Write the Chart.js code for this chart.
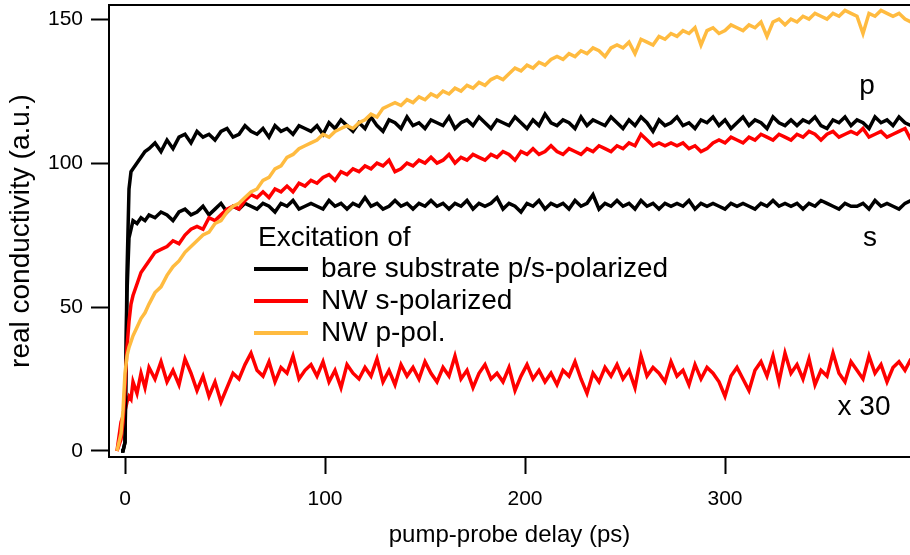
<!DOCTYPE html>
<html>
<head>
<meta charset="utf-8">
<script src="https://cdn.jsdelivr.net/npm/chart.js@4"></script>
<style>
  html, body { margin: 0; padding: 0; background: #fff; }
</style>
</head>
<body>
<canvas id="chart" width="910" height="555"></canvas>
<script>
// pump-probe delay in ps
const delay = [
  -6, -4, -2, -1, 0, 1, 2, 3, 4, 6,
  8, 10, 12, 15, 18, 21, 24, 27, 30, 33,
  36, 39, 42, 45, 48, 51, 54, 57, 60, 63,
  66, 69, 72, 75, 78, 81, 84, 87, 90, 93,
  96, 99, 102, 105, 108, 111, 114, 117, 120, 123,
  126, 129, 132, 135, 138, 141, 144, 147, 150, 153,
  156, 159, 162, 165, 168, 171, 174, 177, 180, 183,
  186, 189, 192, 195, 198, 201, 204, 207, 210, 213,
  216, 219, 222, 225, 228, 231, 234, 237, 240, 243,
  246, 249, 252, 255, 258, 261, 264, 267, 270, 273,
  276, 279, 282, 285, 288, 291, 294, 297, 300, 303,
  306, 309, 312, 315, 318, 321, 324, 327, 330, 333,
  336, 339, 342, 345, 348, 351, 354, 357, 360, 363,
  366, 369, 372, 375, 378, 381, 384, 387, 390, 393
];

// bare substrate, p-polarized
const bareP = [
  null, null, 0, 0, 3, 62, 91, 97, 98, 100,
  102, 104, 105, 107, 104, 108, 105, 109, 110, 107,
  111, 109, 110, 108, 111, 112, 109, 110, 113, 111,
  110, 112, 109, 113, 111, 112, 110, 113, 112, 111,
  113, 110, 114, 112, 115, 113, 111, 114, 112, 116,
  113, 111, 115, 114, 112, 116, 113, 114, 112, 115,
  114, 113, 116, 112, 114, 115, 113, 116, 114, 112,
  115, 114, 113, 116, 114, 112, 115, 113, 117, 114,
  113, 115, 114, 112, 116, 113, 115, 114, 113, 116,
  114, 112, 115, 113, 116, 114, 111, 115, 113, 114,
  116, 113, 114, 112, 115, 114, 116, 113, 115, 112,
  114, 116, 113, 115, 114, 112, 116, 114, 113, 115,
  113, 115, 114, 116, 113, 112, 115, 114, 116, 113,
  115, 114, 112, 116, 114, 115, 113, 116, 114, 113
];

// bare substrate, s-polarized
const bareS = [
  null, null, 0, 0, 3, 55, 74, 77, 80, 79,
  81, 80, 82, 81, 83, 82, 80, 83, 84, 82,
  83, 85, 82, 84, 86, 83, 85, 84, 86, 85,
  84, 86, 85, 83, 86, 85, 87, 84, 85, 86,
  85, 84, 87, 85, 86, 84, 86, 85, 88, 85,
  86, 84, 85, 87, 85, 86, 84, 86, 85, 87,
  85, 86, 84, 86, 85, 87, 84, 86, 85, 86,
  88, 84, 86, 85, 83, 86, 85, 87, 84, 86,
  85, 86, 84, 87, 85, 86, 89, 84, 86, 85,
  87, 85, 86, 84, 87, 85, 86, 84, 86, 85,
  86, 85, 87, 84, 86, 85, 86, 85, 84, 86,
  85, 86, 85, 84, 86, 85, 87, 85, 86, 85,
  86, 84, 86, 85, 87, 86, 85, 84, 86, 85,
  85, 86, 84, 87, 85, 86, 85, 84, 86, 87
];

// nanowires, s-polarized
const nwS = [
  null, 0, 4, 10, 22, 36, 45, 51, 54, 58,
  62, 64, 66, 69, 70, 71, 73, 72, 75, 77,
  78, 77, 81, 80, 82, 84, 85, 84, 87, 89,
  88, 90, 88, 91, 90, 92, 90, 93, 92, 94,
  93, 95, 96, 94, 97, 96, 98, 97, 99, 98,
  100, 99, 101, 97, 98, 100, 99, 101, 100, 102,
  100, 101, 103, 100, 102, 101, 103, 102, 101, 103,
  102, 104, 103, 101, 104, 103, 105, 103, 104, 106,
  104, 103, 105, 104, 103, 105, 104, 106, 105, 104,
  106, 105, 107, 106, 110, 108, 106, 107, 106, 107,
  106, 107, 105, 106, 104, 105, 107, 108, 107, 109,
  108, 107, 109, 108, 110, 109, 108, 110, 109, 108,
  110, 109, 111, 110, 108, 110, 111, 109, 110, 111,
  110, 112, 109, 110, 111, 109, 110, 111, 112, 108
];

// nanowires, p-polarized
const nwP = [
  null, 0, 6, 14, 27, 33, 36, 38, 40, 43,
  46, 48, 51, 55, 57, 61, 64, 66, 69, 71,
  73, 75, 76, 79, 80, 83, 85, 86, 88, 90,
  91, 94, 95, 98, 99, 102, 103, 105, 106, 107,
  108, 110, 109, 111, 112, 113, 112, 114, 115, 117,
  116, 119, 120, 121, 120, 122, 121, 123, 122, 124,
  123, 125, 124, 126, 125, 127, 126, 128, 127, 129,
  130, 129, 131, 133, 132, 134, 133, 135, 134, 136,
  137, 136, 138, 137, 139, 138, 140, 139, 137, 140,
  141, 140, 142, 138, 143, 142, 141, 144, 143, 145,
  144, 146, 145, 147, 141, 146, 147, 145, 146, 148,
  147, 146, 148, 147, 149, 144, 149, 150, 148, 150,
  149, 151, 150, 152, 151, 150, 152, 151, 153, 152,
  151, 145, 152, 151, 153, 152, 151, 152, 150, 149
];

// nanowires, s-polarized, multiplied by 30
const nwS30 = [
  null, 0, 10, 12, 14, 17, 19, 18, 24, 20,
  27, 22, 29, 25, 31, 24, 28, 23, 32, 27,
  21, 26, 19, 24, 17, 22, 27, 25, 30, 34,
  28, 26, 31, 24, 29, 27, 33, 25, 28, 30,
  26, 31, 24, 28, 22, 30, 27, 25, 29, 26,
  32, 24, 28, 23, 30, 26, 29, 25, 31, 27,
  24, 29, 26, 33, 25, 28, 22, 27, 30, 25,
  27, 24, 29, 21, 26, 30, 25, 28, 24, 27,
  23, 28, 26, 31, 25, 20, 27, 24, 29, 26,
  30, 25, 28, 22, 33, 26, 29, 27, 24, 31,
  26, 28, 23, 30, 25, 29, 27, 24, 19, 26,
  29, 25, 21, 28, 31, 26, 33, 24, 34, 27,
  30, 25, 32, 23, 28, 26, 34, 27, 24, 31,
  28, 25, 33, 27, 30, 24, 29, 31, 28, 32
];

const xTicks = [0, 100, 200, 300];
const yTicks = [0, 50, 100, 150];

const legendTitle = 'Excitation of';
const legendItems = [
  { text: 'bare substrate p/s-polarized', color: '#000000' },
  { text: 'NW s-polarized', color: '#ff0000' },
  { text: 'NW p-pol.', color: '#ffbb40' }
];

const FONT = 'Liberation Sans, Arial, Helvetica, sans-serif';

function pts(ys) {
  return delay.map((x, i) => ({ x: x, y: ys[i] }));
}

function line(ys, color) {
  return {
    data: pts(ys),
    borderColor: color,
    borderWidth: 3.5,
    pointRadius: 0,
    tension: 0,
    fill: false
  };
}

const annotate = {
  id: 'annotate',
  afterDraw(chart) {
    const ctx = chart.ctx;
    const area = chart.chartArea;
    ctx.save();
    // top frame line
    ctx.strokeStyle = '#000';
    ctx.lineWidth = 2;
    ctx.beginPath();
    ctx.moveTo(area.left - 1, area.top);
    ctx.lineTo(area.right, area.top);
    ctx.stroke();

    ctx.fillStyle = '#000';
    ctx.textBaseline = 'middle';
    ctx.font = '28px ' + FONT;
    ctx.textAlign = 'left';
    ctx.fillText(legendTitle, 258, 238);
    legendItems.forEach((it, i) => {
      const y = 269 + i * 32;
      ctx.strokeStyle = it.color;
      ctx.lineWidth = 4;
      ctx.beginPath();
      ctx.moveTo(254, y);
      ctx.lineTo(308, y);
      ctx.stroke();
      ctx.fillStyle = '#000';
      ctx.fillText(it.text, 321, y);
    });

    ctx.textAlign = 'center';
    ctx.fillText('p', 867, 86);
    ctx.fillText('s', 870, 238);
    ctx.fillText('x 30', 864, 407);
    ctx.restore();
  }
};

new Chart(document.getElementById('chart'), {
  type: 'line',
  data: {
    datasets: [
      line(nwP, '#ffbb40'),
      line(nwS, '#ff0000'),
      line(bareS, '#000000'),
      line(bareP, '#000000'),
      line(nwS30, '#ff0000')
    ]
  },
  options: {
    responsive: false,
    animation: false,
    layout: { padding: { top: 5, right: 0, left: 0, bottom: 0 } },
    plugins: {
      legend: { display: false },
      tooltip: { enabled: false }
    },
    scales: {
      x: {
        type: 'linear',
        min: -8,
        max: 392.5,
        afterBuildTicks: s => { s.ticks = xTicks.map(v => ({ value: v })); },
        afterFit: s => { s.height = 98; s.paddingLeft = 0; s.paddingRight = 0; },
        grid: {
          drawOnChartArea: false,
          drawTicks: true,
          tickLength: 17,
          tickWidth: 2,
          tickColor: '#000'
        },
        border: { display: true, color: '#000', width: 2 },
        ticks: {
          color: '#000',
          padding: 13,
          maxRotation: 0,
          font: { family: FONT, size: 21 }
        },
        title: {
          display: true,
          text: 'pump-probe delay (ps)',
          color: '#000',
          padding: { top: 0, bottom: 5 },
          font: { family: FONT, size: 24 }
        }
      },
      y: {
        type: 'linear',
        min: -2.1,
        max: 154.9,
        afterBuildTicks: s => { s.ticks = yTicks.map(v => ({ value: v })); },
        afterFit: s => { s.width = 109; s.paddingTop = 0; s.paddingBottom = 0; },
        grid: {
          drawOnChartArea: false,
          drawTicks: true,
          tickLength: 18,
          tickWidth: 2,
          tickColor: '#000'
        },
        border: { display: true, color: '#000', width: 2 },
        ticks: {
          color: '#000',
          padding: 8,
          font: { family: FONT, size: 21 }
        },
        title: {
          display: true,
          text: 'real conductivity (a.u.)',
          color: '#000',
          padding: { top: 4, bottom: 0 },
          font: { family: FONT, size: 28 }
        }
      }
    }
  },
  plugins: [annotate]
});
</script>
</body>
</html>
